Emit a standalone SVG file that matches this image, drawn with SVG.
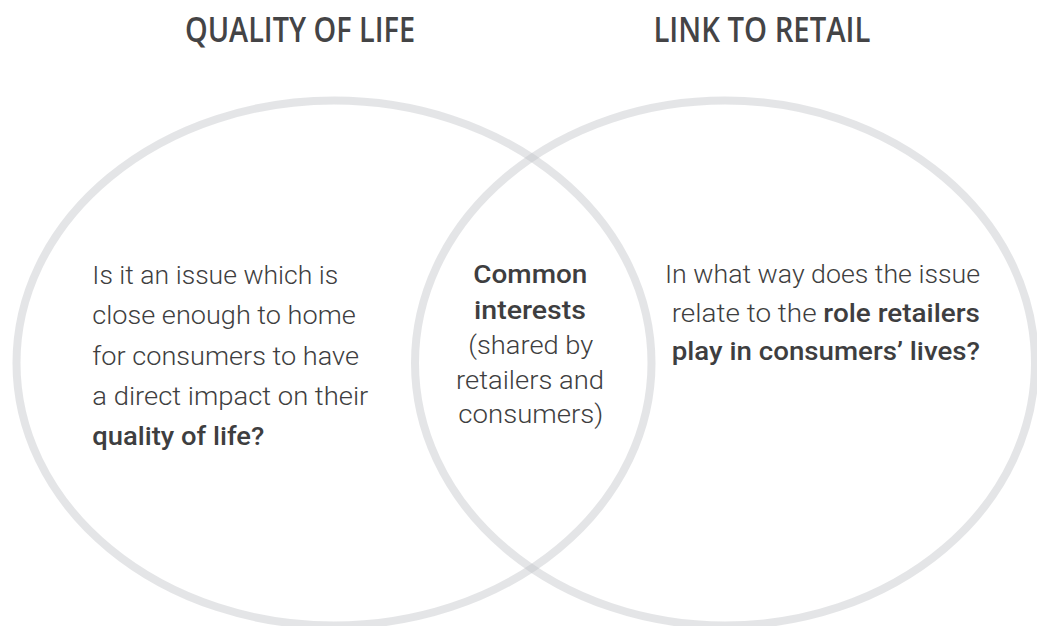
<svg xmlns="http://www.w3.org/2000/svg" width="1037" height="626" viewBox="0 0 1037 626">
  <style>
    .ring { fill: none; stroke: #c4c6ca; stroke-opacity: 0.45; stroke-width: 8; }
    .title { font-family: "Open Sans", "Liberation Sans", sans-serif; font-weight: 600; font-size: 34px; fill: #444446; }
    .body { font-family: Roboto, "Liberation Sans", sans-serif; font-weight: 300; font-size: 26.5px; fill: #3e3e40; }
    .b { font-weight: 500; }
  </style>
  <rect width="1037" height="626" fill="#ffffff"/>
  <g id="quality-of-life">
    <ellipse class="ring" cx="334" cy="363" rx="317.5" ry="262.5"/>
    <text class="title" x="185" y="41.7" textLength="230" lengthAdjust="spacingAndGlyphs">QUALITY OF LIFE</text>
    <text class="body" x="92.3" y="284" textLength="246" lengthAdjust="spacingAndGlyphs">Is it an issue which is</text>
    <text class="body" x="92.3" y="324.3" textLength="263.4" lengthAdjust="spacingAndGlyphs">close enough to home</text>
    <text class="body" x="92.3" y="364.7" textLength="266.7" lengthAdjust="spacingAndGlyphs">for consumers to have</text>
    <text class="body" x="92.3" y="405" textLength="276" lengthAdjust="spacingAndGlyphs">a direct impact on their</text>
    <text class="body b" x="92.3" y="445" textLength="172" lengthAdjust="spacingAndGlyphs">quality of life?</text>
  </g>
  <g id="link-to-retail">
    <ellipse class="ring" cx="725" cy="363" rx="310" ry="262.5"/>
    <text class="title" x="653.4" y="41.7" textLength="217" lengthAdjust="spacingAndGlyphs">LINK TO RETAIL</text>
    <text class="body" x="665" y="283.3" textLength="315" lengthAdjust="spacingAndGlyphs">In what way does the issue</text>
    <text class="body" x="671.7" y="321.5" textLength="308.3" lengthAdjust="spacingAndGlyphs">relate to the <tspan class="b">role retailers</tspan></text>
    <text class="body b" x="671.7" y="360" textLength="308.3" lengthAdjust="spacingAndGlyphs">play in consumers’ lives?</text>
  </g>
  <g id="common-interests">
    <text class="body b" x="473.3" y="283.3" textLength="114" lengthAdjust="spacingAndGlyphs">Common</text>
    <text class="body b" x="474" y="318.5" textLength="112" lengthAdjust="spacingAndGlyphs">interests</text>
    <text class="body" x="468.3" y="353.5" textLength="125" lengthAdjust="spacingAndGlyphs">(shared by</text>
    <text class="body" x="456" y="388.5" textLength="148" lengthAdjust="spacingAndGlyphs">retailers and</text>
    <text class="body" x="458.3" y="423" textLength="145" lengthAdjust="spacingAndGlyphs">consumers)</text>
  </g>
</svg>
